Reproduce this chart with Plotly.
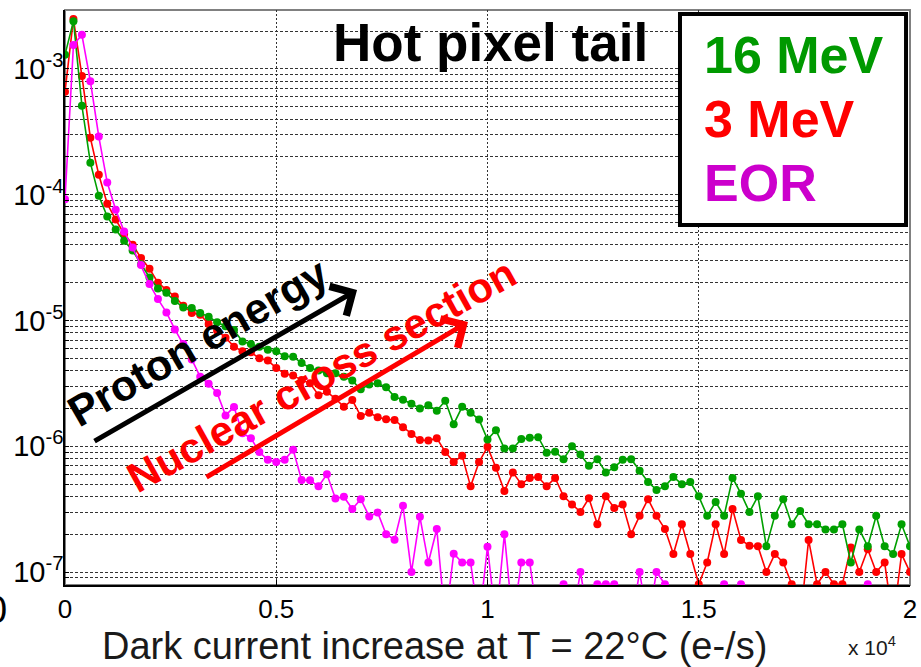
## Hot pixel tail: distribution of the dark current increase after proton irradiation
## x is the dark current increase (units of 10^4 e-/s), y the fraction of pixels per bin

import plotly.graph_objects as go

# bins every 200 e-/s from 0 to 2x10^4 e-/s
x_bins = [round(i * 0.02, 2) for i in range(101)]

green_16mev = [
    1.3e-3, 2.4e-3, 5.1e-4, 1.8e-4, 9.8e-5, 6.7e-5, 5.3e-5, 4.3e-5, 3.6e-5, 2.8e-5,
    2.2e-5, 1.8e-5, 1.66e-5, 1.43e-5, 1.27e-5, 1.26e-5, 1.15e-5, 1.07e-5, 9.7e-6, 9.0e-6,
    8.4e-6, 6.8e-6, 6.5e-6, 6.2e-6, 5.85e-6, 5.7e-6, 5.2e-6, 5.15e-6, 4.6e-6, 4.2e-6,
    4.0e-6, 3.8e-6, 3.8e-6, 3.57e-6, 3.33e-6, 2.84e-6, 3.1e-6, 3.17e-6, 2.95e-6, 2.47e-6,
    2.34e-6, 2.18e-6, 2.0e-6, 2.12e-6, 1.92e-6, 2.3e-6, 1.5e-6, 2.06e-6, 1.85e-6, 1.63e-6,
    1.13e-6, 1.34e-6, 9.6e-7, 9.6e-7, 1.14e-6, 1.17e-6, 1.18e-6, 8.9e-7, 9.05e-7, 7.9e-7,
    1.0e-6, 8.6e-7, 7.0e-7, 7.9e-7, 6.2e-7, 6.8e-7, 7.8e-7, 7.9e-7, 6.4e-7, 5.2e-7,
    4.5e-7, 4.8e-7, 5.7e-7, 5.0e-7, 5.2e-7, 4.0e-7, 2.8e-7, 3.6e-7, 2.8e-7, 5.6e-7,
    4.2e-7, 3.0e-7, 4.0e-7, 1.6e-7, 2.8e-7, 3.8e-7, 2.4e-7, 3.06e-7, 2.4e-7, 2.4e-7,
    2.18e-7, 2.18e-7, 2.4e-7, 1.19e-7, 2.18e-7, 1.6e-7, 2.8e-7, 1.6e-7, 1.39e-7, 2.4e-7,
    1.6e-7,
]

red_3mev = [
    6.6e-4, 2.5e-3, 8.8e-4, 2.84e-4, 1.44e-4, 8.5e-5, 6.35e-5, 4.9e-5, 4.0e-5, 3.14e-5,
    2.58e-5, 2.0e-5, 1.75e-5, 1.55e-5, 1.31e-5, 1.15e-5, 1.11e-5, 9.4e-6, 8.3e-6, 7.3e-6,
    6.2e-6, 5.7e-6, 5.6e-6, 5.0e-6, 4.8e-6, 4.2e-6, 3.77e-6, 3.66e-6, 3.36e-6, 3.17e-6,
    2.55e-6, 2.71e-6, 2.39e-6, 2.06e-6, 2.33e-6, 1.74e-6, 1.85e-6, 1.7e-6, 1.64e-6, 1.62e-6,
    1.42e-6, 1.25e-6, 1.12e-6, 1.11e-6, 1.16e-6, 9.0e-7, 7.5e-7, 8.4e-7, 4.8e-7, 7.5e-7,
    9.9e-7, 6.75e-7, 4.4e-7, 6.2e-7, 5.0e-7, 5.6e-7, 5.7e-7, 4.8e-7, 5.6e-7, 4.0e-7,
    3.45e-7, 3.0e-7, 3.86e-7, 2.4e-7, 4.0e-7, 3.23e-7, 3.45e-7, 2.0e-7, 2.8e-7, 3.8e-7,
    2.8e-7, 2.2e-7, 1.39e-7, 2.4e-7, 1.39e-7, 8.0e-8, 1.19e-7, 2.4e-7, 1.39e-7, 3.17e-7,
    1.8e-7, 1.62e-7, 1.6e-7, 1.0e-7, 1.39e-7, 1.19e-7, 8.0e-8, 4.0e-8, 1.8e-7, 8.0e-8,
    1.0e-7, 8.0e-8, 8.0e-8, 1.57e-7, 1.0e-7, 1.52e-7, 1.0e-7, 1.19e-7, 4.0e-8, 1.39e-7,
    1.0e-7,
]

magenta_eor = [
    9.2e-5, 1.55e-3, 1.87e-3, 8.0e-4, 2.9e-4, 1.25e-4, 7.6e-5, 5.1e-5, 3.8e-5, 2.76e-5,
    1.95e-5, 1.48e-5, 1.16e-5, 8.5e-6, 6.5e-6, 4.9e-6, 3.57e-6, 3.14e-6, 2.65e-6, 1.76e-6,
    2.05e-6, 1.27e-6, 1.16e-6, 9.0e-7, 7.8e-7, 7.5e-7, 7.8e-7, 9.4e-7, 5.4e-7, 5.36e-7,
    4.8e-7, 6.0e-7, 3.85e-7, 3.97e-7, 3.17e-7, 3.8e-7, 2.77e-7, 2.98e-7, 2.0e-7, 1.81e-7,
    3.37e-7, 1.0e-7, 2.75e-7, 1.19e-7, 2.2e-7, 4.0e-8, 1.4e-7, 1.19e-7, 1.19e-7, 4.0e-8,
    1.59e-7, 4.0e-8, 2.0e-7, 4.0e-8, 1.19e-7, 1.19e-7, 4.0e-8, 4.0e-8, 4.0e-8, 8.0e-8,
    4.0e-8, 1.0e-7, 4.0e-8, 8.0e-8, 8.0e-8, 8.0e-8, 4.0e-8, 4.0e-8, 1.0e-7, 4.0e-8,
    1.0e-7, 8.0e-8, 4.0e-8, 4.0e-8, 4.0e-8, 4.0e-8, 4.0e-8, 4.0e-8, 8.0e-8, 4.0e-8,
    8.0e-8, 4.0e-8, 4.0e-8, 4.0e-8, 4.0e-8, 4.0e-8, 4.0e-8, 4.0e-8, 4.0e-8, 4.0e-8,
    4.0e-8, 4.0e-8, 4.0e-8, 4.0e-8, 4.0e-8, 8.0e-8, 4.0e-8, 4.0e-8, 4.0e-8, 4.0e-8,
    4.0e-8,
]

x_tick_vals = [0, 0.5, 1, 1.5, 2]
x_tick_text = ['0', '0.5', '1', '1.5', '2']
y_decades = [-8, -7, -6, -5, -4, -3, -2]

FONT = 'Liberation Sans, Arial, sans-serif'


def y_ticks():
    # every 1..9 x 10^n gets a grid line, only the decades get a label
    vals, text = [], []
    for d in y_decades:
        for m in range(1, 10):
            vals.append(m * 10.0 ** d)
            text.append('10<sup>%d</sup>' % d if m == 1 else '')
    return vals, text


def note(fig, text, x, y, size, color='black', **kw):
    # plain text placed in paper coordinates, anchored on its centre unless told otherwise
    opts = dict(xanchor='center', yanchor='middle')
    opts.update(kw)
    fig.add_annotation(text=text, xref='paper', yref='paper', x=x, y=y, showarrow=False,
                       font=dict(size=size, color=color), **opts)


def create_plot():
    fig = go.Figure()
    series = [(red_3mev, '#ff0000'), (green_16mev, '#00a000'), (magenta_eor, '#ff00ff')]
    for values, color in series:
        fig.add_trace(go.Scatter(x=x_bins, y=values, mode='lines+markers',
                                 line=dict(color=color, width=1.6),
                                 marker=dict(color=color, size=8),
                                 showlegend=False))

    tv, tt = y_ticks()
    fig.update_layout(
        width=921, height=667,
        plot_bgcolor='white', paper_bgcolor='white',
        margin=dict(l=65, r=11, t=10, b=82),
        font=dict(family=FONT, color='black'),
        xaxis=dict(range=[0, 2], tickvals=x_tick_vals, ticktext=x_tick_text,
                   tickfont=dict(size=26), ticks='inside', ticklen=5, tickcolor='black',
                   showgrid=True, gridcolor='#333', griddash='2px,2px', gridwidth=1,
                   showline=True, linecolor='black', linewidth=1.5, zeroline=False,
                   automargin=False),
        yaxis=dict(type='log', range=[-7.103, -2.531], tickvals=tv, ticktext=tt,
                   tickfont=dict(size=29), ticks='inside', ticklen=4, tickcolor='black',
                   ticklabelstandoff=-6,
                   showgrid=True, gridcolor='#333', griddash='3px,2px', gridwidth=1,
                   showline=True, linecolor='black', linewidth=1.5, automargin=False),
    )

    # grey frame on top / right
    fig.add_shape(type='rect', xref='paper', yref='paper', x0=0, x1=1, y0=0, y1=1,
                  line=dict(color='#808080', width=2), layer='below')

    # legend box with coloured labels
    fig.add_shape(type='rect', xref='paper', yref='paper', x0=0.7278, x1=0.9953,
                  y0=0.6261, y1=0.9930, line=dict(color='black', width=4),
                  fillcolor='white', layer='above')
    for label, color, ypos in [('16 MeV', '#009900', 0.9217), ('3 MeV', '#ff0000', 0.8104),
                               ('EOR', '#cc00cc', 0.6991)]:
        note(fig, '<b>%s</b>' % label, 0.7538, ypos, 52, color, xanchor='left')

    note(fig, '<b>Hot pixel tail</b>', 0.5041, 0.9443, 53)

    # arrows and rotated labels
    fig.add_annotation(text='', xref='paper', yref='paper', x=0.3456, y=0.5130,
                       ax=-264, ay=152, showarrow=True, arrowhead=4, arrowsize=1.3,
                       arrowwidth=5, arrowcolor='black')
    fig.add_annotation(text='', xref='paper', yref='paper', x=0.4769, y=0.4574,
                       ax=-263, ay=156, showarrow=True, arrowhead=4, arrowsize=1.3,
                       arrowwidth=5, arrowcolor='#ff0000')
    note(fig, '<b>Proton energy</b>', 0.1574, 0.4226, 43, textangle=-30)
    note(fig, '<b>Nuclear cross section</b>', 0.3030, 0.3652, 42, '#ff0000', textangle=-29)

    # axis title and multiplier
    note(fig, 'Dark current increase at T = 22°C (e-/s)', 0.437, -0.1055, 38, '#1a1a1a')
    note(fig, 'x 10<sup>4</sup>', 0.9243, -0.1060, 21, '#1a1a1a', xanchor='left')
    # stray zero cut off on the left edge
    note(fig, '0', -0.0657, -0.0435, 38, xanchor='right')
    return fig


def main():
    fig = create_plot()
    # no page margin so the 921x667 figure sits exactly in the window
    fig.write_html("out.html", config={'displayModeBar': False},
                   post_script="document.body.style.margin='0';")


if __name__ == "__main__":
    main()
